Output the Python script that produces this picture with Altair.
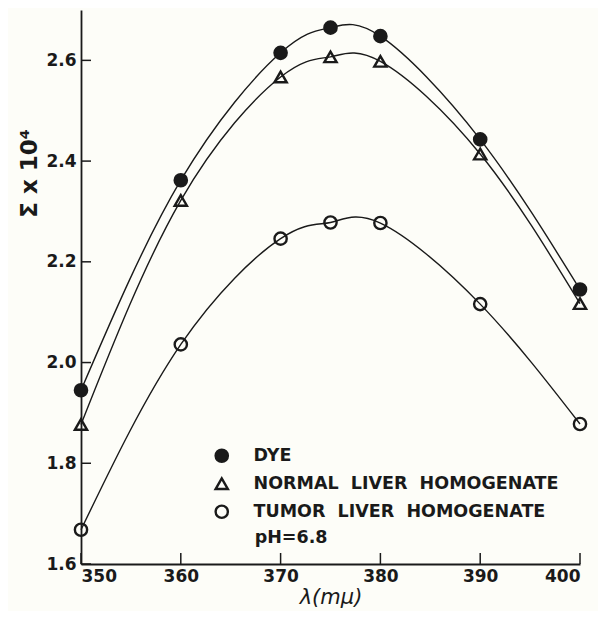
import altair as alt
import pandas as pd

# ---- data ----
wavelengths = [350, 360, 370, 375, 380, 390, 400]
dye = [1.945, 2.362, 2.615, 2.665, 2.648, 2.443, 2.145]
normal = [1.877, 2.322, 2.567, 2.607, 2.598, 2.414, 2.117]
tumor = [1.668, 2.036, 2.246, 2.278, 2.277, 2.116, 1.878]
NB = "\u00a0\u00a0"
series_names = ["DYE", f"NORMAL{NB}LIVER{NB}HOMOGENATE", f"TUMOR{NB}LIVER{NB}HOMOGENATE"]

x_ticks = [350, 360, 370, 380, 390, 400]
y_ticks = [1.6, 1.8, 2.0, 2.2, 2.4, 2.6]

note_text = ["pH=6.8"]
note_x = [367.4]
note_y = [1.652]

rows = []
for name, vals in zip(series_names, [dye, normal, tumor]):
    for w, v in zip(wavelengths, vals):
        rows.append({"wl": w, "eps": v, "series": name})
df = pd.DataFrame(rows)

W, H = 499, 554
FONT = "DejaVu Sans"
INK = "#1a1a1a"

xscale = alt.Scale(domain=[350, 400], nice=False, zero=False)
yscale = alt.Scale(domain=[1.6, 2.7], nice=False, zero=False)

x_enc = alt.X(
    "wl:Q", scale=xscale,
    axis=alt.Axis(
        title="λ(mμ)", values=x_ticks, format="d", grid=False, ticks=False, tickSize=0,
        labelFont=FONT, labelFontSize=17, labelFontWeight="bold", labelColor=INK,
        labelPadding=4, domainColor=INK, domainWidth=1.8,
        titleFont=FONT, titleFontSize=21, titleFontStyle="italic", titleFontWeight="normal",
        titleColor=INK, titlePadding=2,
    ),
)
y_enc = alt.Y(
    "eps:Q", scale=yscale,
    axis=alt.Axis(
        title="Σ x 10⁴", values=y_ticks, format=".1f", grid=False, ticks=False, tickSize=0,
        labelFont=FONT, labelFontSize=17, labelFontWeight="bold", labelColor=INK,
        labelPadding=5, domainColor=INK, domainWidth=1.8,
        titleFont=FONT, titleFontSize=23, titleFontWeight="bold", titleColor=INK,
        titleAngle=-90, titleX=-52, titleY=163, titleAlign="center", titleBaseline="middle",
    ),
)

lines = alt.Chart(df).mark_line(
    interpolate="natural", color=INK, strokeWidth=1.4
).encode(x=x_enc, y=y_enc, detail="series:N")

def make_legend():
    return alt.Legend(
        title=None, orient="none", legendX=132, legendY=437, padding=0,
        labelFont=FONT, labelFontSize=17.5, labelFontWeight="bold", labelColor=INK,
        labelOffset=23, rowPadding=6, symbolSize=150, symbolStrokeWidth=2.4,
        labelLimit=400,
    )

points = alt.Chart(df).mark_point(
    size=150, strokeWidth=2.4, opacity=1, filled=False
).encode(
    x="wl:Q",
    y="eps:Q",
    shape=alt.Shape(
        "series:N",
        scale=alt.Scale(domain=series_names, range=["circle", "triangle-up", "circle"]),
        legend=make_legend(),
    ),
    fill=alt.Fill(
        "series:N",
        scale=alt.Scale(domain=series_names, range=[INK, "transparent", "transparent"]),
        legend=make_legend(),
    ),
    stroke=alt.Stroke(
        "series:N",
        scale=alt.Scale(domain=series_names, range=[INK, INK, INK]),
        legend=make_legend(),
    ),
)

xt = alt.Chart(pd.DataFrame({"t": x_ticks})).mark_rule(color=INK, strokeWidth=1.5).encode(
    x=alt.X("t:Q", scale=xscale), y=alt.value(H), y2=alt.value(H - 11)
)
yt = alt.Chart(pd.DataFrame({"t": y_ticks})).mark_rule(color=INK, strokeWidth=1.5).encode(
    y=alt.Y("t:Q", scale=yscale), x=alt.value(0), x2=alt.value(10)
)

note = alt.Chart(pd.DataFrame({"x": note_x, "y": note_y, "txt": note_text})).mark_text(
    align="left", baseline="middle", font=FONT, fontSize=17.5, fontWeight="bold", color=INK
).encode(x=alt.X("x:Q", scale=xscale), y=alt.Y("y:Q", scale=yscale), text="txt:N")

chart = alt.layer(lines, points, xt, yt, note).properties(
    width=W, height=H,
    autosize=alt.AutoSizeParams(type="none"),
    padding={"left": 73, "top": 2, "right": 18, "bottom": 47},
    background="#fdfdf8",
).configure_view(stroke=None)

chart.save("out.html", embed_options={"renderer": "svg", "actions": False})
